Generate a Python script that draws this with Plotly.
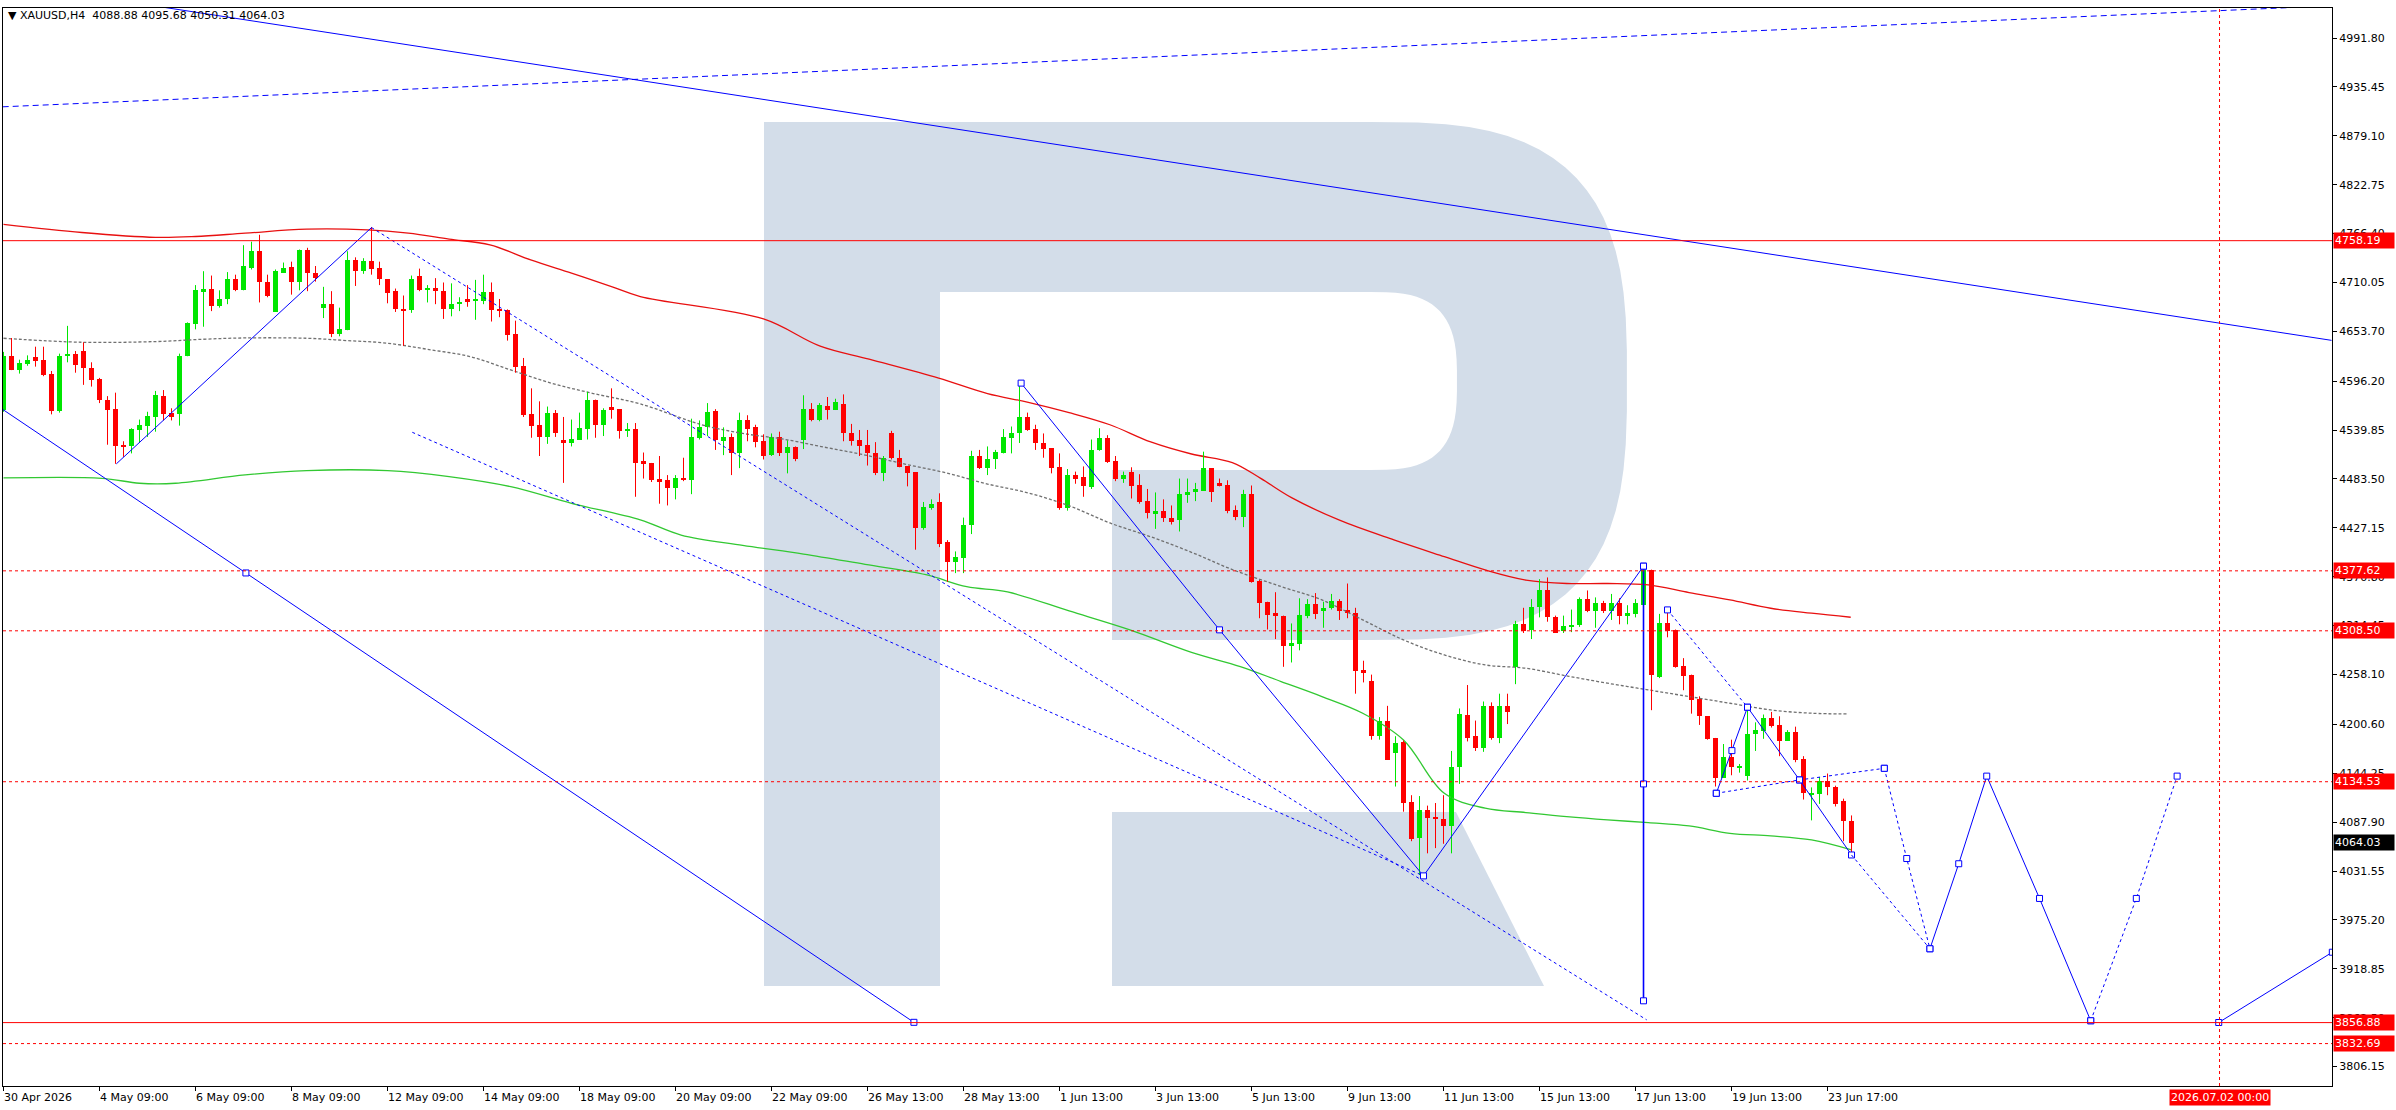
import numpy as np
import plotly.graph_objects as go

# XAUUSD H4 candles, bar 0 = 30 Apr 2026 (one bar = 4 hours)
opens = [4563, 4625, 4609, 4616, 4624, 4621, 4605, 4562, 4625, 4628, 4631, 4612,
         4599, 4575, 4564, 4523, 4522, 4540, 4545, 4555, 4579, 4560, 4558, 4625,
         4662, 4700, 4703, 4683, 4691, 4714, 4701, 4727, 4746, 4711, 4676, 4721,
         4728, 4711, 4748, 4721, 4681, 4685, 4651, 4655, 4736, 4723, 4735, 4727,
         4714, 4700, 4680, 4678, 4717, 4702, 4704, 4700, 4679, 4685, 4691, 4689,
         4689, 4699, 4680, 4678, 4651, 4614, 4558, 4546, 4532, 4560, 4528, 4525,
         4529, 4541, 4575, 4546, 4566, 4564, 4539, 4541, 4504, 4502, 4483, 4482,
         4473, 4485, 4482, 4531, 4544, 4562, 4527, 4532, 4513, 4552, 4543, 4527,
         4511, 4532, 4513, 4520, 4529, 4564, 4552, 4568, 4563, 4570, 4537, 4528,
         4523, 4514, 4490, 4537, 4508, 4498, 4491, 4427, 4450, 4457, 4411, 4388,
         4393, 4430, 4510, 4496, 4506, 4514, 4531, 4537, 4555, 4541, 4525, 4519,
         4497, 4450, 4488, 4486, 4474, 4517, 4531, 4504, 4484, 4491, 4476, 4458,
         4443, 4447, 4439, 4436, 4465, 4469, 4470, 4496, 4479, 4477, 4448, 4440,
         4466, 4366, 4342, 4329, 4326, 4291, 4293, 4326, 4339, 4331, 4335, 4343,
         4333, 4329, 4263, 4251, 4187, 4205, 4168, 4180, 4111, 4070, 4102, 4094,
         4091, 4083, 4151, 4212, 4187, 4173, 4222, 4185, 4222, 4267, 4316, 4309,
         4336, 4356, 4324, 4308, 4313, 4315, 4345, 4331, 4341, 4331, 4341, 4326,
         4328, 4338, 4379, 4255, 4318, 4309, 4268, 4257, 4230, 4210, 4185, 4139,
         4163, 4151, 4141, 4190, 4193, 4208, 4200, 4182, 4192, 4161, 4120, 4120,
         4135, 4129, 4112, 4088.88]
highs = [4630, 4646, 4621, 4626, 4636, 4636, 4608, 4628, 4660, 4631, 4641, 4618,
         4600, 4579, 4583, 4527, 4542, 4552, 4561, 4585, 4586, 4565, 4628, 4664,
         4707, 4723, 4718, 4701, 4722, 4719, 4753, 4757, 4765, 4719, 4725, 4733,
         4734, 4748, 4750, 4729, 4705, 4700, 4681, 4746, 4739, 4738, 4774, 4734,
         4714, 4703, 4695, 4718, 4726, 4707, 4715, 4710, 4709, 4693, 4707, 4713,
         4719, 4710, 4691, 4679, 4666, 4623, 4588, 4573, 4567, 4563, 4555, 4552,
         4560, 4584, 4575, 4565, 4588, 4564, 4548, 4548, 4514, 4502, 4510, 4488,
         4488, 4508, 4553, 4551, 4571, 4564, 4543, 4536, 4560, 4557, 4546, 4535,
         4536, 4538, 4528, 4521, 4580, 4571, 4571, 4578, 4576, 4581, 4547, 4540,
         4540, 4526, 4510, 4539, 4517, 4498, 4491, 4457, 4460, 4467, 4413, 4400,
         4439, 4516, 4517, 4521, 4517, 4541, 4544, 4595, 4560, 4546, 4536, 4519,
         4513, 4495, 4492, 4498, 4529, 4542, 4534, 4510, 4492, 4497, 4489, 4472,
         4468, 4460, 4453, 4484, 4484, 4479, 4515, 4496, 4484, 4482, 4453, 4471,
         4476, 4367, 4342, 4353, 4326, 4317, 4346, 4345, 4352, 4342, 4351, 4345,
         4363, 4335, 4274, 4258, 4209, 4222, 4187, 4182, 4119, 4118, 4107, 4110,
         4119, 4170, 4219, 4246, 4205, 4227, 4226, 4236, 4236, 4320, 4335, 4345,
         4368, 4370, 4326, 4326, 4333, 4347, 4355, 4347, 4343, 4351, 4346, 4338,
         4345, 4383, 4379, 4328, 4329, 4310, 4277, 4258, 4233, 4210, 4185, 4178,
         4183, 4155, 4221, 4203, 4212, 4215, 4210, 4194, 4198, 4164, 4128, 4140,
         4144, 4130, 4115, 4095.68]
lows = [4561, 4609, 4605, 4614, 4613, 4602, 4558, 4560, 4618, 4606, 4592, 4590,
        4571, 4523, 4501, 4509, 4513, 4525, 4532, 4538, 4551, 4551, 4545, 4625,
        4656, 4659, 4677, 4681, 4685, 4700, 4701, 4725, 4687, 4693, 4676, 4721,
        4696, 4701, 4700, 4711, 4669, 4647, 4648, 4655, 4706, 4720, 4719, 4707,
        4686, 4676, 4637, 4675, 4700, 4687, 4685, 4668, 4671, 4677, 4682, 4667,
        4685, 4665, 4670, 4643, 4606, 4555, 4531, 4510, 4524, 4532, 4479, 4521,
        4529, 4529, 4531, 4533, 4553, 4530, 4532, 4463, 4484, 4480, 4455, 4453,
        4460, 4481, 4466, 4529, 4533, 4517, 4511, 4488, 4496, 4527, 4520, 4506,
        4510, 4510, 4490, 4504, 4518, 4550, 4550, 4552, 4563, 4527, 4522, 4510,
        4499, 4488, 4481, 4506, 4497, 4475, 4402, 4425, 4448, 4405, 4365, 4375,
        4375, 4420, 4495, 4488, 4495, 4513, 4513, 4525, 4539, 4517, 4508, 4490,
        4448, 4447, 4478, 4463, 4472, 4516, 4502, 4481, 4479, 4461, 4455, 4438,
        4426, 4434, 4431, 4423, 4456, 4458, 4470, 4457, 4475, 4444, 4436, 4428,
        4364, 4323, 4310, 4299, 4267, 4272, 4286, 4323, 4322, 4312, 4333, 4321,
        4323, 4236, 4249, 4183, 4183, 4160, 4129, 4100, 4066, 4027, 4052, 4058,
        4063, 4052, 4132, 4181, 4170, 4169, 4183, 4179, 4201, 4247, 4306, 4299,
        4324, 4319, 4306, 4306, 4307, 4313, 4330, 4312, 4329, 4321, 4316, 4316,
        4324, 4338, 4217, 4254, 4301, 4266, 4240, 4213, 4200, 4183, 4129, 4139,
        4142, 4145, 4136, 4170, 4184, 4197, 4164, 4182, 4157, 4114, 4090, 4109,
        4119, 4106, 4066, 4050.31]
closes = [4625, 4609, 4617, 4621, 4620, 4603, 4562, 4625, 4628, 4615, 4612, 4598,
          4575, 4563, 4522, 4521, 4541, 4546, 4556, 4580, 4558, 4555, 4625, 4663,
          4701, 4702, 4683, 4691, 4714, 4701, 4729, 4746, 4710, 4695, 4723, 4727,
          4711, 4748, 4721, 4715, 4685, 4651, 4656, 4736, 4723, 4735, 4726, 4714,
          4698, 4679, 4678, 4714, 4701, 4704, 4700, 4679, 4685, 4688, 4688, 4690,
          4699, 4678, 4678, 4650, 4613, 4557, 4545, 4532, 4560, 4537, 4525, 4530,
          4542, 4575, 4546, 4563, 4563, 4539, 4541, 4502, 4501, 4482, 4481, 4473,
          4485, 4482, 4532, 4543, 4561, 4528, 4532, 4513, 4552, 4541, 4526, 4510,
          4532, 4513, 4520, 4506, 4564, 4552, 4569, 4563, 4572, 4536, 4527, 4522,
          4513, 4490, 4508, 4508, 4497, 4490, 4427, 4451, 4455, 4409, 4388, 4394,
          4431, 4510, 4496, 4507, 4515, 4532, 4537, 4555, 4540, 4525, 4518, 4496,
          4450, 4488, 4484, 4475, 4517, 4531, 4503, 4484, 4488, 4475, 4457, 4444,
          4447, 4438, 4434, 4466, 4469, 4472, 4496, 4469, 4475, 4447, 4440, 4466,
          4365, 4341, 4327, 4325, 4291, 4294, 4327, 4339, 4328, 4335, 4343, 4331,
          4329, 4262, 4260, 4187, 4205, 4160, 4179, 4110, 4069, 4102, 4093, 4091,
          4083, 4151, 4213, 4185, 4173, 4222, 4185, 4222, 4215, 4316, 4308, 4336,
          4356, 4324, 4306, 4314, 4315, 4345, 4331, 4341, 4331, 4341, 4326, 4329,
          4340, 4379, 4258, 4318, 4308, 4267, 4256, 4229, 4210, 4184, 4139, 4163,
          4151, 4152, 4190, 4194, 4208, 4199, 4182, 4192, 4160, 4121, 4122, 4135,
          4128, 4109, 4089, 4064.03]
bars = list(range(len(opens)))

# moving averages (bar index, price)
ma_red_x = [0, 9.8, 19, 24, 30.2, 37.9, 45.5, 50.6, 55.7, 60.8, 65.9, 71, 76, 79.6, 95, 102,
            108.2, 116.9, 123, 128.1, 133.2, 138.3, 143.4, 148.5, 153.6, 157.1, 161, 167,
            173.8, 180.1, 185.2, 190.3, 195.4, 200.5, 205.6, 210.7, 215.8, 220.9, 226, 230.9]
ma_red_y = [4777, 4767.6, 4762, 4763, 4766.8, 4771.4, 4770.6, 4766.8, 4760, 4753.4, 4736, 4720.7,
            4705.3, 4693.8, 4668, 4637, 4621.6, 4599.7, 4581.9, 4571.9, 4560, 4546, 4526.2,
            4512.3, 4502.4, 4484.5, 4462, 4436, 4413.3, 4394, 4378.7, 4367, 4363, 4363,
            4361.4, 4352.6, 4344.1, 4334.5, 4328.8, 4324.1]
ma_gray_x = [0, 9.8, 19, 25, 30.2, 37.9, 43, 48, 53, 58.3, 63.4, 68.5, 73.6, 79.6, 87.3, 92.4,
             97.5, 102.6, 107.7, 112.8, 117.9, 123, 128.1, 133.2, 138.3, 143.4, 148.5, 153.6,
             159.7, 164.8, 169.9, 175, 180.1, 185.2, 190.3, 195.4, 200.5, 205.6, 210.7, 215.8,
             220.9, 226, 230.6]
ma_gray_y = [4645.7, 4641.1, 4641.9, 4644.6, 4646.1, 4645.7, 4643, 4640, 4633, 4624.6, 4609.2,
             4593.9, 4582.3, 4570, 4546, 4536, 4529.4, 4520.2, 4511.1, 4500.4, 4490.4, 4477.7,
             4467.4, 4452.7, 4432.8, 4416.9, 4399, 4379.1, 4359.5, 4344.1, 4321.1, 4298,
             4280.7, 4269.2, 4265.3, 4256.5, 4248.1, 4240.4, 4232.7, 4225, 4217.3, 4213.5, 4212.7]
ma_green_x = [0, 12.3, 17, 21.5, 30.2, 37.9, 48, 55.7, 63.4, 71, 79.6, 84.7, 92.4, 100, 107.7,
              115.3, 120.4, 125.5, 133.2, 140.8, 148.5, 154.6, 159.7, 164.8, 169.9, 175, 180.1,
              185.2, 190.3, 195.4, 200.5, 205.6, 210.7, 215.8, 220.9, 226, 231]
ma_green_y = [4484.7, 4484.3, 4478.6, 4478.6, 4488.2, 4493.2, 4493.2, 4486.3, 4474.7, 4455.5,
              4436.3, 4418.9, 4407, 4397, 4385.1, 4373.2, 4359.3, 4353.3, 4331.4, 4309.6,
              4283.7, 4267.3, 4250, 4232.7, 4213.5, 4182.7, 4121.2, 4104, 4099, 4094.3, 4090.5,
              4087.4, 4083.6, 4075.1, 4072.1, 4067.4, 4055.9]

# drawn objects (bar index, price)
trend_top = [(0, 5055.6), (291, 4643.3)]
channel_top = [(-0.1, 4912.5), (291.1, 5029)]
trend_left = [(-0.1, 4563.7), (30.3, 4375.2), (113.8, 3857.2)]
zig_may = [(14.1, 4500.9), (46, 4773.3)]
dash_a = [(46, 4773.3), (205.4, 3860)]
dash_b = [(51.1, 4537.3), (177.5, 4026)]
zig_main = [(127.2, 4594), (152, 4309.6), (177.5, 4026), (205, 4383)]
vert_line = [(205, 4383), (205, 4132), (205, 3882)]
zig_small = [(214.1, 4121.2), (216.05, 4170.4), (218, 4220.4), (224.5, 4136.6), (231, 4050.1)]
dash_small1 = [(208, 4332.6), (218, 4220.4)]
dash_small2 = [(214.1, 4121.2), (224.5, 4136.6), (235.1, 4150)]
dash_fc1 = [(235.1, 4150), (237.9, 4046), (240.8, 3942)]
dash_fc2 = [(231, 4050.1), (240.8, 3942)]
solid_fc = [(240.8, 3942), (244.4, 4040), (247.9, 4141), (254.5, 4000), (260.9, 3859)]
dash_fc3 = [(260.9, 3859), (266.6, 4000), (271.7, 4141)]
solid_fc2 = [(276.9, 3857), (291.1, 3938)]

levels = [4758.19, 4377.62, 4308.50, 4134.53, 3856.88, 3832.69]
level_dash = ["solid", "3px,3px", "3px,3px", "3px,3px", "solid", "3px,3px"]
last_price = 4064.03
future_bar = 277
future_label = "2026.07.02 00:00"

xtick_pos = list(range(0, 229, 12))
xtick_text = ["30 Apr 2026", "4 May 09:00", "6 May 09:00", "8 May 09:00", "12 May 09:00",
              "14 May 09:00", "18 May 09:00", "20 May 09:00", "22 May 09:00", "26 May 13:00",
              "28 May 13:00", "1 Jun 13:00", "3 Jun 13:00", "5 Jun 13:00", "9 Jun 13:00",
              "11 Jun 13:00", "15 Jun 13:00", "17 Jun 13:00", "19 Jun 13:00", "23 Jun 17:00"]
ytick_text = ["4991.80", "4935.45", "4879.10", "4822.75", "4766.40", "4710.05", "4653.70",
              "4596.20", "4539.85", "4483.50", "4427.15", "4370.80", "4314.45", "4258.10",
              "4200.60", "4144.25", "4087.90", "4031.55", "3975.20", "3918.85", "3862.50", "3806.15"]

W, H = 2396, 1110
ML, MR, MT, MB = 3, 64, 8, 24
FONT = "DejaVu Sans"
BLUE = "#0000ff"


def pp(x, y):
    # pixel -> paper, used for the background logo only
    return (x - ML) / (W - ML - MR), (H - MB - y) / (H - MT - MB)


def path_of(points):
    s = ""
    for i, (x, y) in enumerate(points):
        a, b = pp(x, y)
        s += ("M" if i == 0 else "L") + f"{a:.5f},{b:.5f} "
    return s + "Z"


def sarc(cx, cy, a, b, t0, t1, n=3.0, k=40):
    t = np.linspace(t0, t1, k)
    c, s = np.cos(t), np.sin(t)
    xs = cx + a * np.sign(c) * np.abs(c) ** (2 / n)
    ys = cy + b * np.sign(s) * np.abs(s) ** (2 / n)
    return list(zip(xs, ys))


fig = go.Figure()

# watermark logo
bowl = ([(940, 122), (1370, 122)] + sarc(1370, 381, 257, 259, -np.pi / 2, np.pi / 2)
        + [(1370, 640), (1112, 640), (1112, 470), (1370, 470)]
        + sarc(1370, 381, 87, 89, np.pi / 2, -np.pi / 2) + [(1370, 292), (940, 292)])
stem = [(764, 122), (940, 122), (940, 986), (764, 986)]
leg = [(1112, 812), (1456, 812), (1544, 986), (1112, 986)]
for poly in (stem, bowl, leg):
    fig.add_shape(type="path", path=path_of(poly), xref="paper", yref="paper",
                  fillcolor="#d3dde9", line_width=0, layer="below")

# moving averages
fig.add_trace(go.Scatter(x=ma_green_x, y=ma_green_y, mode="lines", line=dict(color="#32c832", width=1.3, shape="spline")))
fig.add_trace(go.Scatter(x=ma_gray_x, y=ma_gray_y, mode="lines", line=dict(color="#707070", width=1.3, dash="3px,2px", shape="spline")))
fig.add_trace(go.Scatter(x=ma_red_x, y=ma_red_y, mode="lines", line=dict(color="#e81010", width=1.3, shape="spline")))

# candles: wicks + bodies
for up, col in ((True, "#00e600"), (False, "#ff0000")):
    sel = [i for i in bars if (closes[i] >= opens[i]) == up]
    wx, wy = [], []
    for i in sel:
        wx += [i, i, None]
        wy += [lows[i], highs[i], None]
    fig.add_trace(go.Scatter(x=wx, y=wy, mode="lines", line=dict(color=col, width=1)))
    fig.add_trace(go.Bar(x=sel, base=[min(opens[i], closes[i]) for i in sel],
                         y=[max(abs(closes[i] - opens[i]), 1.0) for i in sel],
                         width=0.62, marker=dict(color=col, line_width=0)))


def seg(pts, dash="solid", markers=True, width=1):
    fig.add_trace(go.Scatter(x=[p[0] for p in pts], y=[p[1] for p in pts], mode="lines",
                             line=dict(color=BLUE, width=width, dash=dash)))
    if markers:
        fig.add_trace(go.Scatter(x=[p[0] for p in pts[1:]] if markers == "tail" else [p[0] for p in pts],
                                 y=[p[1] for p in pts[1:]] if markers == "tail" else [p[1] for p in pts],
                                 mode="markers",
                                 marker=dict(symbol="square", size=6, color="white", line=dict(color=BLUE, width=1))))


seg(trend_top, markers=False)
seg(channel_top, dash="6px,4px", markers=False)
seg(trend_left, markers="tail")
seg(zig_may, markers=False)
seg(dash_a, dash="3px,3px", markers=False)
seg(dash_b, dash="3px,3px", markers=False)
seg(zig_main)
seg(vert_line, width=1.6)
seg(zig_small)
seg(dash_small1, dash="3px,3px")
seg(dash_small2, dash="3px,3px")
seg(dash_fc1, dash="3px,3px")
seg(dash_fc2, dash="3px,3px", markers=False)
seg(solid_fc)
seg(dash_fc3, dash="3px,3px")
seg(solid_fc2)

# horizontal levels and future time line
for lv, ds in zip(levels, level_dash):
    fig.add_shape(type="line", xref="paper", x0=0, x1=1, yref="y", y0=lv, y1=lv,
                  line=dict(color="#ff0000", width=1, dash=ds))
    fig.add_annotation(xref="paper", x=1, xanchor="left", xshift=1, y=lv, yref="y",
                       text=f"{lv:.2f}", showarrow=False, bgcolor="#ff0000", width=58, height=13,
                       align="left", font=dict(family=FONT, size=11, color="white"))
fig.add_annotation(xref="paper", x=1, xanchor="left", xshift=1, y=last_price, yref="y",
                   text=f"{last_price:.2f}", showarrow=False, bgcolor="#000000", width=58, height=13,
                   align="left", font=dict(family=FONT, size=11, color="white"))
fig.add_shape(type="line", xref="x", x0=future_bar, x1=future_bar, yref="paper", y0=0, y1=1,
              line=dict(color="#ff0000", width=1, dash="3px,3px"))
fig.add_annotation(xref="x", x=future_bar, yref="paper", y=0, yanchor="top", yshift=-3,
                   text=future_label, showarrow=False, bgcolor="#ff0000",
                   font=dict(family=FONT, size=11, color="white"))

for pos, txt in zip(xtick_pos, xtick_text):
    fig.add_annotation(xref="x", x=pos, xanchor="left", xshift=-2, yref="paper", y=0,
                       yanchor="top", yshift=-3, text=txt, showarrow=False,
                       font=dict(family=FONT, size=11, color="black"))

fig.add_annotation(xref="paper", x=0, xanchor="left", xshift=3, yref="paper", y=1,
                   yanchor="top", yshift=1,
                   text="\u25bc\u00a0XAUUSD,H4\u00a0\u00a04088.88 4095.68 4050.31 4064.03",
                   showarrow=False, font=dict(family=FONT, size=11, color="black"))

ytick_vals = [float(t) for t in ytick_text]
fig.update_layout(
    width=W, height=H, margin=dict(l=ML, r=MR, t=MT, b=MB, pad=0),
    paper_bgcolor="white", plot_bgcolor="white", showlegend=False,
    barmode="overlay", bargap=0,
    xaxis=dict(range=[-0.0625, 291.06], showgrid=False, zeroline=False, showline=True,
               linecolor="black", linewidth=1, mirror=True, ticks="outside", ticklen=4,
               tickcolor="black", tickvals=xtick_pos, showticklabels=False, fixedrange=True),
    yaxis=dict(range=[3783.8, 5026.4], side="right", showgrid=False, zeroline=False,
               showline=True, linecolor="black", linewidth=1, mirror=True, ticks="outside",
               ticklen=4, tickcolor="black", tickvals=ytick_vals, ticktext=ytick_text,
               tickfont=dict(family=FONT, size=11, color="black"), fixedrange=True),
)

fig.write_html("out.html", config={"displayModeBar": False},
               post_script="document.body.style.margin='0';")
